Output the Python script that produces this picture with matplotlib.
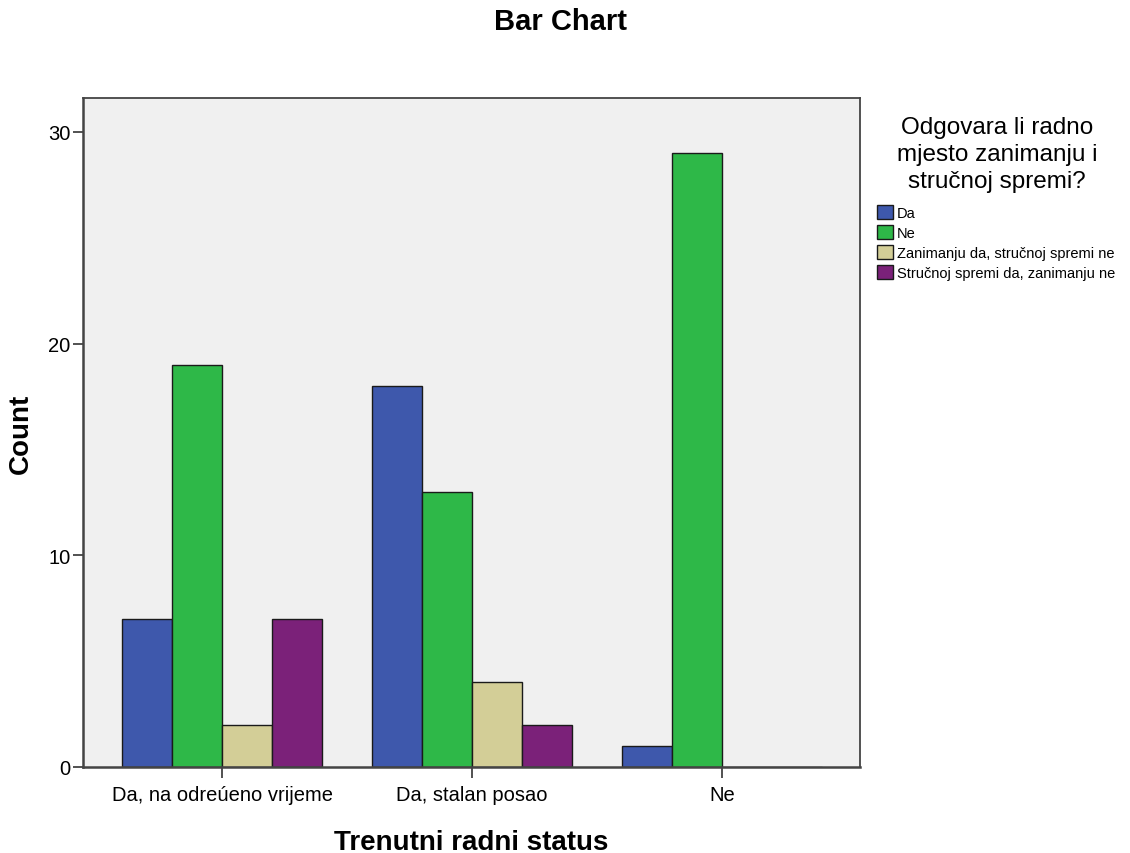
import matplotlib
matplotlib.use("Agg")
import matplotlib.pyplot as plt
import numpy as np

plt.rcParams['font.family'] = ['Liberation Sans', 'DejaVu Sans']

categories = ["Da, na odreúeno vrijeme", "Da, stalan posao", "Ne"]
series_names = ["Da", "Ne", "Zanimanju da, stručnoj spremi ne", "Stručnoj spremi da, zanimanju ne"]
da = [7, 18, 1]
ne = [19, 13, 29]
zan = [2, 4, 0]
stru = [7, 2, 0]
series_values = [da, ne, zan, stru]
colors = ["#3E58AC", "#2EB848", "#D3CE97", "#7B2179"]
legend_title = "Odgovara li radno\nmjesto zanimanju i\nstručnoj spremi?"

fig = plt.figure(figsize=(11.3, 8.54), dpi=100)
ax = fig.add_axes([83/1130, 1-768/854, (860-83)/1130, (768-99)/854])
ax.set_facecolor("#F0F0F0")

x = np.arange(len(categories))
width = 0.2
offsets = [-0.3, -0.1, 0.1, 0.3]
handles = []
for vals, off, col, name in zip(series_values, offsets, colors, series_names):
    b = ax.bar(x + off, vals, width, color=col, edgecolor="#1a1a1a", linewidth=1.0, label=name)
    handles.append(b)

ax.set_xlim(-0.556, 2.552)
ax.set_ylim(0, 31.6)
ax.set_yticks([0, 10, 20, 30])
ax.set_xticks(x)
ax.set_xticklabels(categories, fontsize=14.5)
ax.tick_params(axis='y', labelsize=14.5, length=7, width=1.2, color="#333333", direction='out', pad=2)
ax.tick_params(axis='x', length=8, width=1.2, color="#333333", direction='out', pad=5)
for s in ax.spines.values():
    s.set_color("#444444")
    s.set_linewidth(1.3)
ax.spines['left'].set_linewidth(1.8)
ax.spines['bottom'].set_linewidth(1.8)

ax.set_ylabel("Count", fontsize=20, fontweight='bold', labelpad=10)
ax.set_xlabel("Trenutni radni status", fontsize=20, fontweight='bold', labelpad=18)
fig.text(560/1130, 1-22/854, "Bar Chart", ha='center', va='center', fontsize=21, fontweight='bold')

fig.text(997/1130, 1-155/854, legend_title, ha='center', va='center',
         fontsize=17.5, linespacing=1.27, multialignment='center')

leg = fig.legend(handles=handles, labels=series_names, loc='upper left',
                 bbox_to_anchor=(877/1130, 1-206/854),
                 fontsize=10.5, frameon=False,
                 handlelength=1.1, handleheight=1.1, handletextpad=0.25,
                 labelspacing=0.35, borderaxespad=0, borderpad=0)

fig.savefig("out.png", dpi=100, facecolor="white")
